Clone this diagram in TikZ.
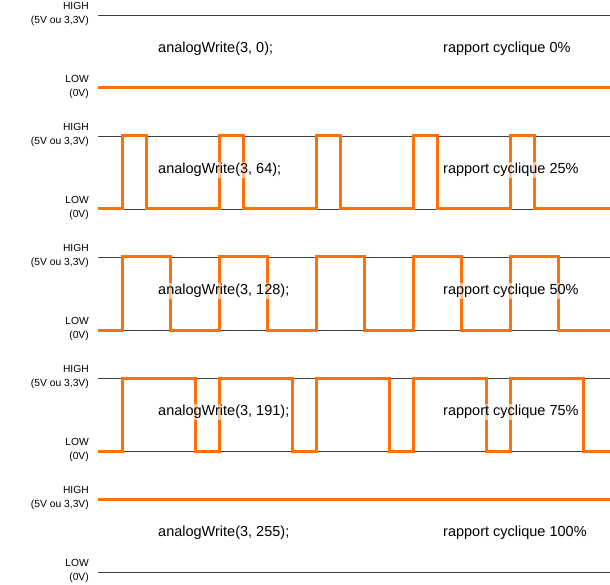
\documentclass[tikz,border=0pt]{standalone}
\usepackage{fontspec}
\setmainfont{Liberation Sans}
\definecolor{pwmorange}{RGB}{255,112,10}
\begin{document}
\begin{tikzpicture}[x=1pt,y=-1pt,
    level/.style={draw=black!75,line width=0.8pt},
    signal/.style={draw=pwmorange,line width=3pt,line join=miter},
    lvltxt/.style={anchor=east,font=\fontsize{10.3}{12}\selectfont,inner sep=0pt},
    codetxt/.style={anchor=west,font=\fontsize{14.5}{17}\selectfont,fill=white,fill opacity=0.6,text opacity=1,inner sep=1pt}]
  \useasboundingbox (0,0) rectangle (610,585);
  % reference levels and labels
  \foreach \k in {0,...,4}{
    \pgfmathsetmacro{\hi}{15+121*\k}
    \pgfmathsetmacro{\lo}{\hi+73}
    \draw[level] (98,\hi) -- (610,\hi);
    \draw[level] (98,\lo) -- (610,\lo);
    \node[lvltxt] (high\k) at (89,\hi-9) {HIGH};
    \node[lvltxt] (highv\k) at (89,\hi+6) {(5V ou 3,3V)};
    \node[lvltxt] (low\k) at (89,\lo-9) {LOW};
    \node[lvltxt] (lowv\k) at (89,\lo+6) {(0V)};
  }
  % constant signals
  \draw[signal] (98,88) -- (610,88);
  \draw[signal] (98,499) -- (610,499);
  % pwm signals
  \foreach \k/\w in {1/24,2/48,3/73}{
    \pgfmathsetmacro{\hi}{15+121*\k}
    \pgfmathsetmacro{\lo}{\hi+73}
    \draw[signal] (98,\lo)
      \foreach \i in {0,...,4}{
        -- (122+97*\i,\lo) -- (122+97*\i,\hi) -- (122+97*\i+\w,\hi) -- (122+97*\i+\w,\lo)
      } -- (610,\lo);
  }
  % texts
  \foreach \k/\v/\p in {0/0/0,1/64/25,2/128/50,3/191/75,4/255/100}{
    \pgfmathsetmacro{\ty}{15+121*\k+34}
    \node[codetxt] (code\k) at (157,\ty) {analogWrite(3, \v);};
    \node[codetxt] (ratio\k) at (442,\ty) {rapport cyclique \p\%};
  }
\end{tikzpicture}
\end{document}
